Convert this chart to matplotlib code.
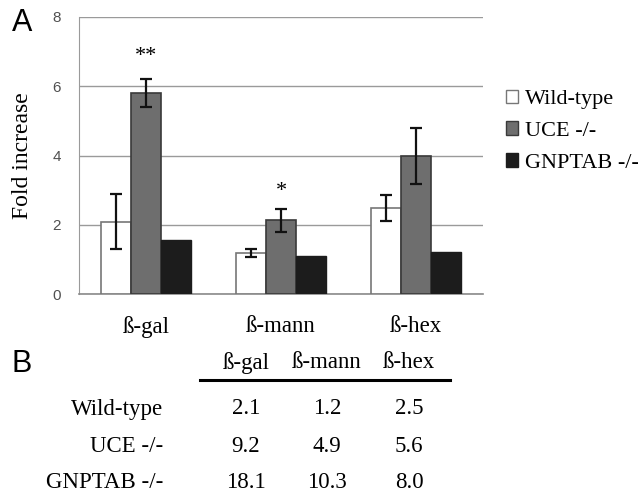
import matplotlib
matplotlib.use("Agg")
import matplotlib.pyplot as plt
import numpy as np
from matplotlib.patches import Patch
from matplotlib.lines import Line2D

# data
enzymes = ["ß-gal", "ß-mann", "ß-hex"]
groups = ["Wild-type", "UCE -/-", "GNPTAB -/-"]
wild_type = [2.09, 1.19, 2.49]
wild_type_err = [0.80, 0.11, 0.37]
uce = [5.80, 2.13, 3.99]
uce_err = [0.40, 0.33, 0.80]
gnptab = [1.57, 1.11, 1.22]
stars = ["**", "*", ""]
star_y = [6.85, 2.95, 0]
y_ticks = [0, 2, 4, 6, 8]

table_rows = ["Wild-type", "UCE -/-", "GNPTAB -/-"]
table_vals = [["2.1", "1.2", "2.5"],
              ["9.2", "4.9", "5.6"],
              ["18.1", "10.3", "8.0"]]

W, H = 642, 495
SERIF = "Liberation Serif"
SANS = "Liberation Sans"

def fx(px): return px / W
def fy(py): return 1 - py / H

fig = plt.figure(figsize=(W / 100, H / 100), dpi=100)
ax = fig.add_axes([fx(79), fy(294), fx(483) - fx(79), fy(17) - fy(294)])

x = np.arange(len(enzymes))
bw = 0.222
ekw = dict(ecolor="#111111", elinewidth=1.6, capsize=4, capthick=1.6)
ax.bar(x - bw, wild_type, bw, color="white", edgecolor="#777777", lw=1.2,
       yerr=wild_type_err, error_kw=ekw, zorder=3, label=groups[0])
ax.bar(x, uce, bw, color="#6e6e6e", edgecolor="#3a3a3a", lw=1.2,
       yerr=uce_err, error_kw=ekw, zorder=3, label=groups[1])
ax.bar(x + bw, gnptab, bw, color="#1c1c1c", edgecolor="#1c1c1c", lw=1.0,
       zorder=3, label=groups[2])
for xi, s, sy in zip(x, stars, star_y):
    if s:
        ax.text(xi, sy, s, ha="center", va="center", fontsize=16, family=SERIF)

ax.set_xlim(-0.5, 2.5)
ax.set_ylim(0, 8)
ax.set_yticks(y_ticks)
ax.set_yticklabels([str(t) for t in y_ticks], family=SANS, fontsize=11, color="#505050")
ax.set_xticks(x)
ax.set_xticklabels(enzymes, family=SERIF, fontsize=16.5)
ax.tick_params(axis="x", length=0, pad=16)
ax.tick_params(axis="y", length=0, pad=13)
ax.yaxis.grid(True, color="#9a9a9a", lw=1.0, zorder=0)
for s in ["top", "right"]:
    ax.spines[s].set_visible(False)
ax.spines["left"].set_color("#9a9a9a")
ax.spines["bottom"].set_color("#8a8a8a")
ax.spines["bottom"].set_linewidth(1.2)
ax.set_ylabel("Fold increase", family=SERIF, fontsize=17, labelpad=14)

handles = [Patch(facecolor="white", edgecolor="#777777"),
           Patch(facecolor="#6e6e6e", edgecolor="#3a3a3a"),
           Patch(facecolor="#1c1c1c", edgecolor="#1c1c1c")]
ax.legend(handles, groups, loc="upper left", bbox_to_anchor=(1.035, 0.77),
          frameon=False, prop={"family": SERIF, "size": 16},
          handlelength=0.55, handleheight=0.55, handletextpad=0.3,
          labelspacing=0.55, borderaxespad=0)

fig.text(fx(12), fy(23), "A", family=SANS, fontsize=22, va="center")
fig.text(fx(12), fy(364), "B", family=SANS, fontsize=22, va="center")

# table B
col_x = [246, 327, 409]
for cx, name in zip(col_x, enzymes):
    fig.text(fx(cx), fy(363), name, family=SERIF, fontsize=16.5, ha="center", va="center")
fig.add_artist(Line2D([fx(200), fx(450)], [fy(380), fy(380)], color="black", lw=2.2))
row_y = [409, 447, 483]
for ry, lab, vals in zip(row_y, table_rows, table_vals):
    fig.text(fx(163), fy(ry), lab, family=SERIF, fontsize=16.5, ha="right", va="center")
    for cx, v in zip(col_x, vals):
        fig.text(fx(cx), fy(ry), v, family=SERIF, fontsize=16.5, ha="center", va="center")

fig.savefig("out.png", dpi=100)
